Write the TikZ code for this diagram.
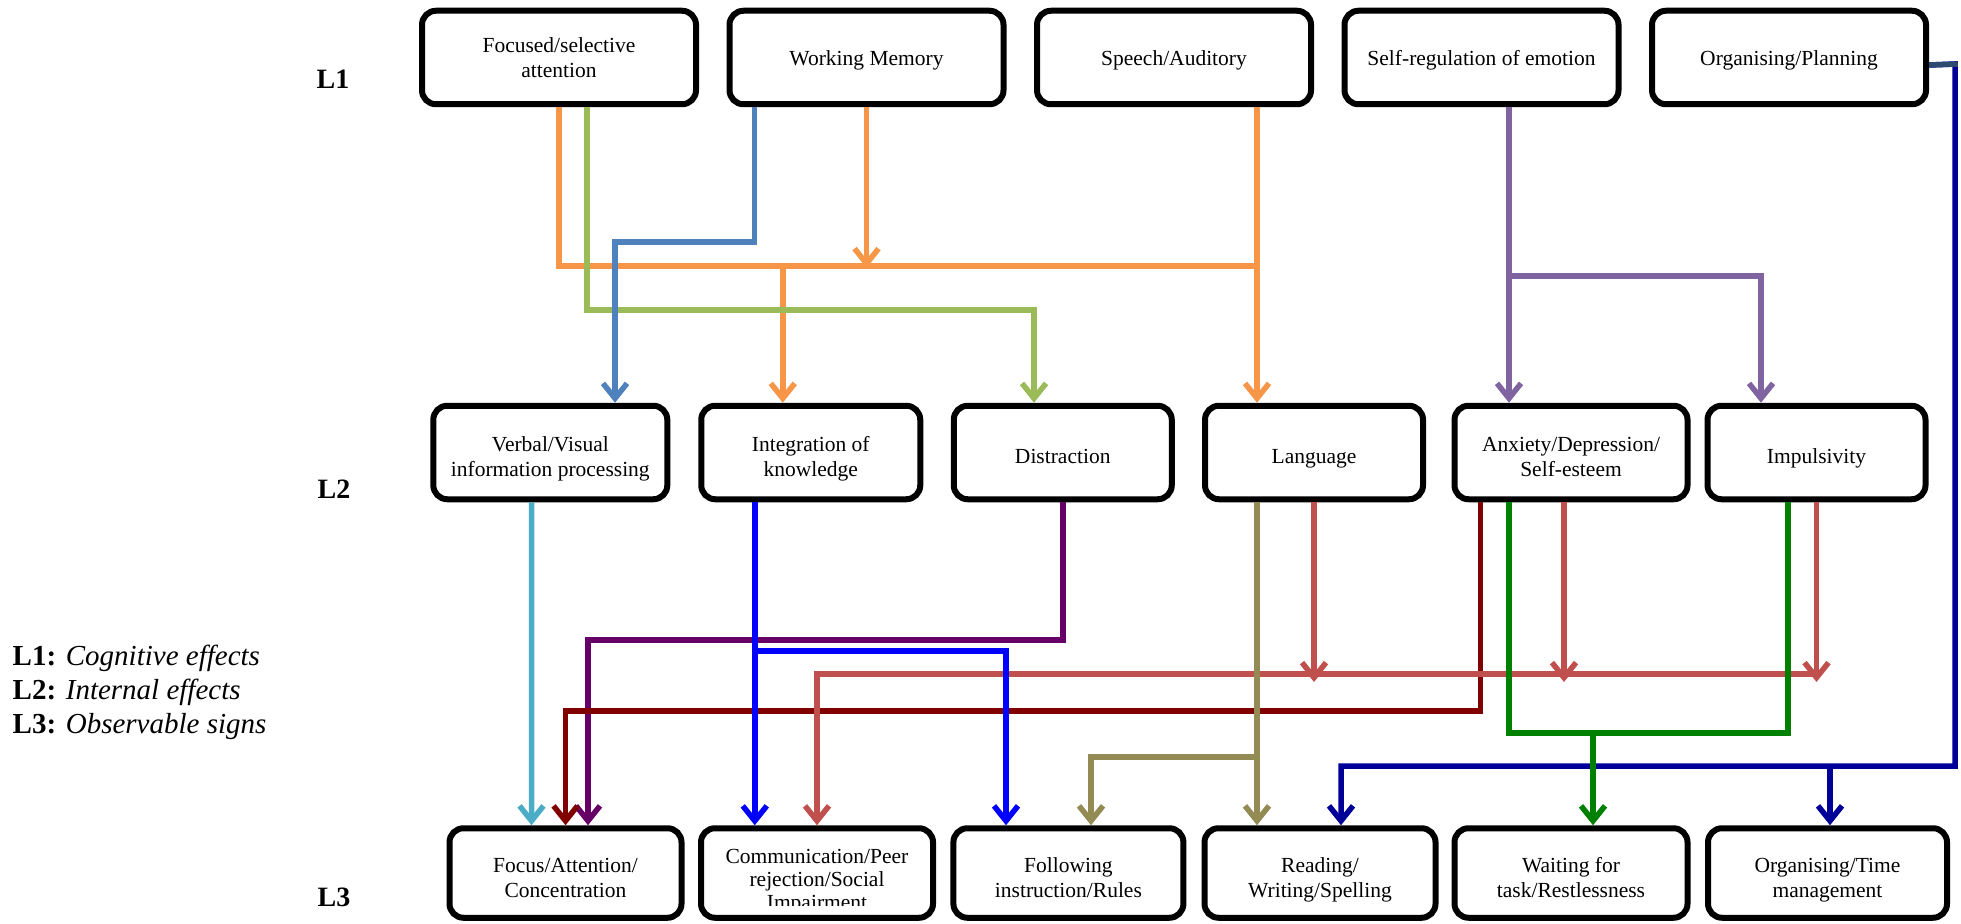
\documentclass[tikz,border=0pt]{standalone}
\usepackage{fontspec}
\setmainfont{Liberation Serif}
\usetikzlibrary{arrows.meta}

\definecolor{cOrange}{HTML}{F79646}
\definecolor{cGreenL}{HTML}{9BBB59}
\definecolor{cSteel}{HTML}{4F81BD}
\definecolor{cPurple}{HTML}{8064A2}
\definecolor{cNavy}{HTML}{000099}
\definecolor{cSlate}{HTML}{2C4A70}
\definecolor{cCyan}{HTML}{4BACC6}
\definecolor{cBlue}{HTML}{0000FF}
\definecolor{cDPurple}{HTML}{660066}
\definecolor{cDRed}{HTML}{800000}
\definecolor{cRed}{HTML}{C0504D}
\definecolor{cOlive}{HTML}{948A54}
\definecolor{cGreen}{HTML}{008000}

\begin{document}
\begin{tikzpicture}[x=1pt,y=-1pt,
  lvbox/.style={draw=black, line width=6pt, rounded corners=14pt, align=center,
    inner sep=0pt, fill=white, font=\fontsize{21.5}{25}\selectfont},
  rowone/.style={lvbox, minimum width=274pt, minimum height=93.5pt},
  rowtwo/.style={lvbox, minimum height=93.5pt},
  rowthree/.style={lvbox, minimum height=89.5pt},
  % vertical placement of the box texts
  txtonea/.style={text height=21.3pt, text depth=5pt},
  txtoneb/.style={text height=45pt, text depth=5pt},
  txttwoa/.style={text height=27.5pt, text depth=5pt},
  txttwob/.style={text height=53pt, text depth=5pt},
  txtthreeb/.style={text height=54pt, text depth=5pt},
  lvlabel/.style={font=\fontsize{28}{28}\selectfont\bfseries, inner sep=0pt},
  conn/.style={line width=5.5pt, line join=miter},
  arr/.style={-{Straight Barb[length=15pt,width=24pt]}},
]
\useasboundingbox (0,0) rectangle (1961,923);

% level labels and legend
\node[lvlabel] (lab1) at (333,79) {L1};
\node[lvlabel] (lab2) at (334,489) {L2};
\node[lvlabel] (lab3) at (334,897) {L3};
\node[anchor=west, align=left, inner sep=0pt, font=\fontsize{29}{34}\selectfont] (legend) at (12.5,692)
  {\textbf{L1:} \textit{Cognitive effects}\\\textbf{L2:} \textit{Internal effects}\\\textbf{L3:} \textit{Observable signs}};

% L1: cognitive effects
\node[rowone, txtoneb] (f1) at (559,57.5) {Focused/selective\\attention};
\node[rowone, txtonea] (f2) at (866.5,57.5) {Working Memory};
\node[rowone, txtonea] (f3) at (1174,57.5) {Speech/Auditory};
\node[rowone, txtonea] (f4) at (1481.5,57.5) {Self-regulation of emotion};
\node[rowone, txtonea] (f5) at (1789,57.5) {Organising/Planning};

% L2: internal effects
\node[rowtwo, txttwob, minimum width=234pt] (l1) at (550.3,452.5) {Verbal/Visual\\information processing};
\node[rowtwo, txttwob, minimum width=219pt] (l2) at (810.75,452.5) {Integration of\\knowledge};
\node[rowtwo, txttwoa, minimum width=218pt] (l3) at (1062.75,452.5) {Distraction};
\node[rowtwo, txttwoa, minimum width=218pt] (l4) at (1314,452.5) {Language};
\node[rowtwo, txttwob, minimum width=233pt] (l5) at (1571,452.5) {Anxiety/Depression/\\Self-esteem};
\node[rowtwo, txttwoa, minimum width=218pt] (l6) at (1816.5,452.5) {Impulsivity};

% L3: observable signs
\node[rowthree, txtthreeb, minimum width=232pt] (o1) at (565.5,873) {Focus/Attention/\\Concentration};
\node[rowthree, minimum width=232pt] (o2) at (817,873) {};
\node[rowthree, txtthreeb, minimum width=230pt] (o3) at (1068.4,873) {Following\\instruction/Rules};
\node[rowthree, txtthreeb, minimum width=231pt] (o4) at (1320,873) {Reading/\\Writing/Spelling};
\node[rowthree, txtthreeb, minimum width=233pt] (o5) at (1571,873) {Waiting for\\task/Restlessness};
\node[rowthree, txtthreeb, minimum width=239pt] (o6) at (1827.5,873) {Organising/Time\\management};
\begin{scope}
  \clip (700,838) rectangle (935,905);
  \node[align=center, inner sep=0pt, font=\fontsize{21.5}{23}\selectfont] (o2t) at (817,882)
    {Communication/Peer\\rejection/Social\\Impairment};
\end{scope}

% junction points of the connectors
\coordinate (ob1) at (782.75,266);
\coordinate (ob2) at (866.5,268);
\coordinate (ob3) at (1257,266);
\coordinate (gb) at (1034,310);
\coordinate (bb) at (615,242);
\coordinate (pb) at (1509,276);
\coordinate (nb1) at (1955,64);
\coordinate (nb2) at (1955,766);
\coordinate (nb3) at (1830,766);
\coordinate (dpb) at (588,640);
\coordinate (bbus) at (754.75,651);
\coordinate (rb0) at (1816.5,674);
\coordinate (rt1) at (1314,682);
\coordinate (rt2) at (1564,682);
\coordinate (rt3) at (1816.5,682);
\coordinate (drb) at (565.5,711);
\coordinate (gnb) at (1788,733);
\coordinate (gnb2) at (1593,733);
\coordinate (olb) at (1257,757);

% L1 -> L2
\draw[conn, cOrange] (f1.south) |- (ob3);
\draw[conn, cOrange, arr] (f2.south) -- (ob2);
\draw[conn, cOrange, arr] ([xshift=83pt]f3.south) -- ([xshift=-57pt]l4.north);
\draw[conn, cOrange, arr] (ob1) -- ([xshift=-28pt]l2.north);
\draw[conn, cGreenL, arr] ([xshift=28pt]f1.south) |- (gb) -- ([xshift=-28.75pt]l3.north);
\draw[conn, cSteel, arr] ([xshift=-112pt]f2.south) |- (bb) -- ([xshift=64.7pt]l1.north);
\draw[conn, cPurple, arr] ([xshift=27.5pt]f4.south) -- ([xshift=-62pt]l5.north);
\draw[conn, cPurple, arr] (pb) -| ([xshift=-55.5pt]l6.north);

% L1 -> L3 (planning)
\draw[conn, cNavy, arr] ([yshift=-7.5pt]f5.east) -- (nb1) -- (nb2) -| ([xshift=21pt]o4.north);
\draw[conn, cNavy, arr] (nb3) -- ([xshift=2.5pt]o6.north);
\draw[conn, cSlate] ([yshift=-7.5pt]f5.east) -- ([xshift=2.75pt]nb1);

% L2 -> L3
\draw[conn, cCyan, arr] ([xshift=-18.7pt]l1.south) -- ([xshift=-34pt]o1.north);
\draw[conn, cDPurple, arr] (l3.south) |- (dpb) -- ([xshift=22.5pt]o1.north);
\draw[conn, cDRed, arr] ([xshift=-90.4pt]l5.south) |- (drb) -- (o1.north);
\draw[conn, cRed, arr] (l4.south) -- (rt1);
\draw[conn, cRed, arr] ([xshift=-7pt]l5.south) -- (rt2);
\draw[conn, cRed, arr] (l6.south) -- (rt3);
\draw[conn, cRed, arr] (rb0) -| (o2.north);
\draw[conn, cBlue, arr] ([xshift=-56pt]l2.south) -- ([xshift=-62.25pt]o2.north);
\draw[conn, cBlue, arr] (bbus) -| ([xshift=-62.4pt]o3.north);
\draw[conn, cOlive, arr] ([xshift=-57pt]l4.south) -- ([xshift=-63pt]o4.north);
\draw[conn, cOlive, arr] (olb) -| ([xshift=22.6pt]o3.north);
\draw[conn, cGreen] ([xshift=-62pt]l5.south) |- (gnb) -- ([xshift=-28.5pt]l6.south);
\draw[conn, cGreen, arr] (gnb2) -- ([xshift=22pt]o5.north);
\end{tikzpicture}
\end{document}
